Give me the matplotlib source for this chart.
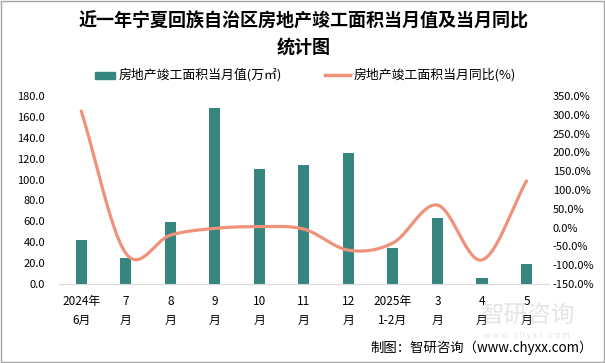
import numpy as np
import matplotlib
matplotlib.use("Agg")
import matplotlib.pyplot as plt
from matplotlib.patches import Rectangle

plt.rcParams['font.family'] = ['Noto Sans CJK SC', 'DejaVu Sans']
plt.rcParams['axes.unicode_minus'] = False

# data
months = ["2024年\n6月", "7\n月", "8\n月", "9\n月", "10\n月", "11\n月", "12\n月",
          "2025年\n1-2月", "3\n月", "4\n月", "5\n月"]
area = [42.1, 24.9, 59.4, 168.9, 110.2, 114.0, 125.5, 34.5, 63.2, 5.7, 19.2]
yoy = [310.0, -68.0, -20.0, -2.0, 2.5, -4.0, -60.0, -41.0, 60.0, -86.0, 124.0]

bar_color = "#36857E"
line_color = "#F0917A"


def smooth(xs, ys, n=30):
    # catmull-rom curve through the points, like excel's smoothed line
    xs = np.asarray(xs, float)
    ys = np.asarray(ys, float)
    px = np.concatenate([[2 * xs[0] - xs[1]], xs, [2 * xs[-1] - xs[-2]]])
    py = np.concatenate([[2 * ys[0] - ys[1]], ys, [2 * ys[-1] - ys[-2]]])
    outx, outy = [], []
    t = np.linspace(0, 1, n)
    for i in range(1, len(px) - 2):
        for p, out in ((px, outx), (py, outy)):
            p0, p1, p2, p3 = p[i - 1], p[i], p[i + 1], p[i + 2]
            seg = 0.5 * ((2 * p1) + (-p0 + p2) * t +
                         (2 * p0 - 5 * p1 + 4 * p2 - p3) * t ** 2 +
                         (-p0 + 3 * p1 - 3 * p2 + p3) * t ** 3)
            out.extend(seg)
    return np.array(outx), np.array(outy)


fig = plt.figure(figsize=(6.05, 3.63), dpi=100)
ax = fig.add_axes([0.0975, 0.2176, 0.8095, 0.5179])
ax2 = ax.twinx()

x = np.arange(len(months))
ax.bar(x, area, width=0.25, color=bar_color, zorder=2)
ax.set_xlim(-0.5, len(months) - 0.5)
ax.set_ylim(0, 180)
ax.set_yticks(np.arange(0, 181, 20))
ax.set_yticklabels([f"{v:.1f}" for v in np.arange(0, 181, 20)])
ax.set_xticks(x)
ax.set_xticklabels(months, linespacing=1.6)

sx, sy = smooth(x, yoy)
ax2.plot(sx, sy, color=line_color, lw=2.3, solid_capstyle='round', zorder=3)
ax2.set_ylim(-150, 350)
ax2.set_yticks(np.arange(-150, 351, 50))
ax2.set_yticklabels([f"{v:.1f}%" for v in np.arange(-150, 351, 50)])

for a in (ax, ax2):
    for s in ("top", "left", "right"):
        a.spines[s].set_visible(False)
    a.tick_params(length=0, labelsize=8)
ax2.spines["bottom"].set_visible(False)
ax.spines["bottom"].set_color("#D9D9D9")
ax.tick_params(axis='x', labelsize=8.5, pad=8)
ax.tick_params(axis='y', pad=10)
ax2.tick_params(axis='y', pad=3)
ax.set_zorder(ax2.get_zorder() - 1)
ax.patch.set_visible(False)

fig.text(0.502, 1 - 34 / 363, "近一年宁夏回族自治区房地产竣工面积当月值及当月同比\n统计图",
         ha='center', va='center', fontsize=13, fontweight='bold', linespacing=1.45)

# legend drawn by hand
fig.patches.append(Rectangle((95 / 605, 1 - 79 / 363), 20 / 605, 7 / 363,
                             transform=fig.transFigure, color=bar_color))
fig.text(119 / 605, 1 - 75 / 363, "房地产竣工面积当月值(万㎡)", fontsize=9.3, va='center')
fig.lines.append(plt.Line2D([325 / 605, 350 / 605], [1 - 75 / 363, 1 - 75 / 363],
                            transform=fig.transFigure, color=line_color, lw=2.5))
fig.text(354 / 605, 1 - 75 / 363, "房地产竣工面积当月同比(%)", fontsize=9.3, va='center')

# watermark
fig.text(527 / 605, 1 - 316 / 363, "智研咨询", fontsize=17, color="#C8CCD0", alpha=0.5,
         ha='center', va='center', zorder=0)
fig.text(527 / 605, 1 - 336 / 363, "w w w . c h y x x . c o m", fontsize=6, color="#C8CCD0",
         alpha=0.5, ha='center', va='center', zorder=0)

fig.text(593 / 605, 1 - 348 / 363, "制图：智研咨询（www.chyxx.com）", fontsize=9.6,
         ha='right', va='center')

fig.patches.append(Rectangle((0.001, 0.004), 0.997, 0.994, transform=fig.transFigure,
                             fill=False, edgecolor="#A6A6A6", lw=1))

fig.savefig("out.png", dpi=100)
